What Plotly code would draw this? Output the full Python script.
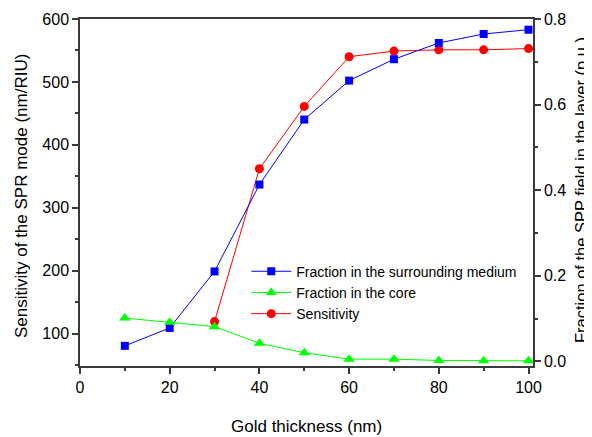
import plotly.graph_objects as go

thickness = [10, 20, 30, 40, 50, 60, 70, 80, 90, 100]
frac_surrounding = [0.036, 0.078, 0.210, 0.413, 0.565, 0.656, 0.706, 0.744, 0.765, 0.775]
frac_core = [0.101, 0.091, 0.081, 0.042, 0.020, 0.005, 0.005, 0.002, 0.001, 0.001]
sens_x = [30, 40, 50, 60, 70, 80, 90, 100]
sensitivity = [119, 362, 461, 540, 549, 551, 551, 553]

FONT = "Liberation Sans, Arial, sans-serif"
AX = "#3a3a3a"

fig = go.Figure()
fig.add_trace(go.Scatter(x=thickness, y=frac_surrounding, yaxis="y2", mode="lines+markers",
                         name="Fraction in the surrounding medium",
                         line=dict(color="#0000ff", width=1),
                         marker=dict(symbol="square", size=8, color="#0000ff")))
fig.add_trace(go.Scatter(x=thickness, y=frac_core, yaxis="y2", mode="lines+markers",
                         name="Fraction in the core",
                         line=dict(color="#00ff00", width=1),
                         marker=dict(symbol="triangle-up", size=10, color="#00ff00")))
fig.add_trace(go.Scatter(x=sens_x, y=sensitivity, mode="lines+markers",
                         name="Sensitivity",
                         line=dict(color="#ff0000", width=1),
                         marker=dict(symbol="circle", size=9, color="#ff0000")))

tick_common = dict(ticks="outside", ticklen=6, tickwidth=1.5, tickcolor=AX,
                   showline=True, linecolor=AX, linewidth=1.5,
                   showgrid=False, zeroline=False, automargin=False,
                   tickfont=dict(size=16))

# page has an 8px body margin, so the figure is drawn 8px smaller and offset
fig.update_layout(
    width=584, height=429,
    margin=dict(l=72, r=59, t=11, b=71),
    paper_bgcolor="white", plot_bgcolor="white",
    font=dict(family=FONT, size=16, color="black"),
    showlegend=True,
    legend=dict(x=0.367, y=0.318, xanchor="left", yanchor="top",
                bgcolor="rgba(0,0,0,0)", font=dict(size=14),
                tracegroupgap=0, itemwidth=40),
    xaxis=dict(range=[0, 101], tickvals=[0, 20, 40, 60, 80, 100], mirror=True,
               minor=dict(ticks="outside", ticklen=3, tickwidth=1.5, tickcolor=AX, dtick=10, tick0=0),
               **tick_common),
    yaxis=dict(range=[48.4, 600], tickvals=[100, 200, 300, 400, 500, 600],
               minor=dict(ticks="outside", ticklen=3, tickwidth=1.5, tickcolor=AX, dtick=50, tick0=0),
               **tick_common),
    yaxis2=dict(range=[-0.011, 0.8], overlaying="y", side="right",
                tickvals=[0, 0.2, 0.4, 0.6, 0.8], tickformat=".1f",
                minor=dict(ticks="outside", ticklen=3, tickwidth=1.5, tickcolor=AX, dtick=0.1, tick0=0),
                **tick_common),
    annotations=[
        dict(text="Gold thickness (nm)", xref="paper", yref="paper",
             x=(306.5 - 80) / 453, y=(366 - 426) / 347, xanchor="center", yanchor="middle",
             showarrow=False, font=dict(size=17)),
        dict(text="Sensitivity of the SPR mode (nm/RIU)", xref="paper", yref="paper",
             x=(21 - 80) / 453, y=(366 - 196) / 347, xanchor="center", yanchor="middle",
             textangle=-90, showarrow=False, font=dict(size=17)),
        dict(text="Fraction of the SPP field in the layer (p.u.)", xref="paper", yref="paper",
             x=(581 - 80) / 453, y=(366 - 190) / 347, xanchor="center", yanchor="middle",
             textangle=-90, showarrow=False, font=dict(size=16.5)),
    ],
)

fig.write_html("out.html")
